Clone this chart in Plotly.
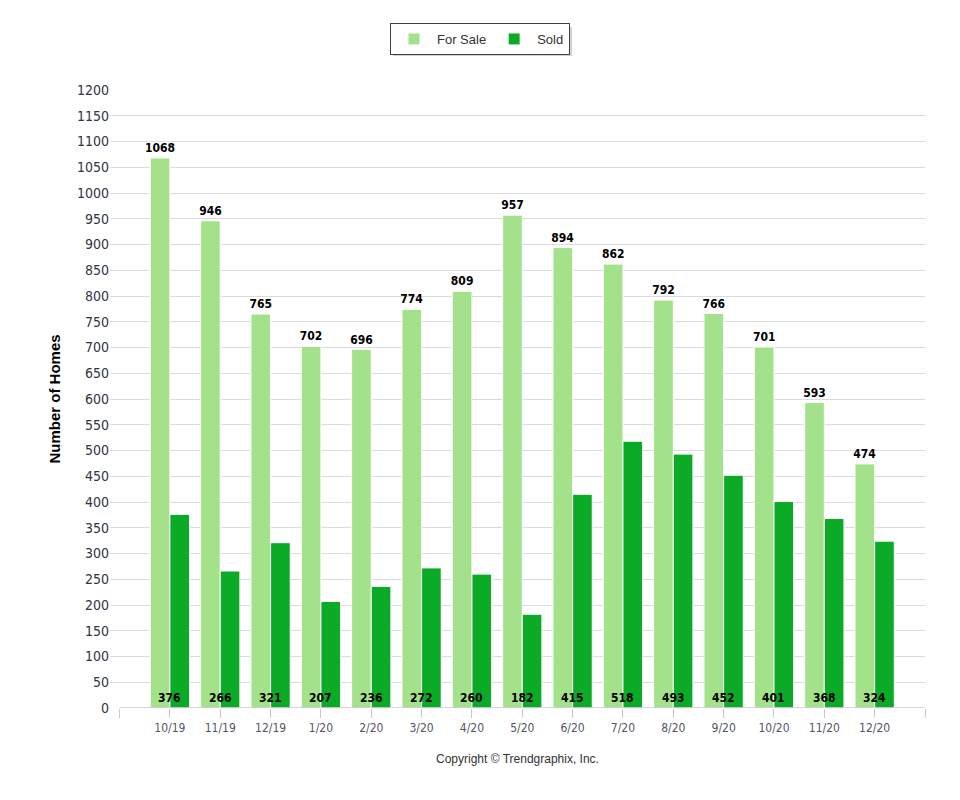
import plotly.graph_objects as go

months = ["10/19", "11/19", "12/19", "1/20", "2/20", "3/20", "4/20", "5/20",
          "6/20", "7/20", "8/20", "9/20", "10/20", "11/20", "12/20"]
for_sale = [1068, 946, 765, 702, 696, 774, 809, 957, 894, 862, 792, 766, 701, 593, 474]
sold = [376, 266, 321, 207, 236, 272, 260, 182, 415, 518, 493, 452, 401, 368, 324]
y_ticks = list(range(0, 1201, 50))

idx = list(range(len(months)))
COND = "Liberation Sans Narrow, DejaVu Sans Condensed, Arial Narrow, sans-serif"
TICKF = "DejaVu Sans Condensed, Liberation Sans Narrow, Tahoma, sans-serif"
ARIAL = "Liberation Sans, Arial, sans-serif"

# page body has an 8px margin; offsets below compensate for it
OFF = 8
W, H = 960, 800
L, R, T, B = 110 - OFF, W - 925 + OFF, 90 - OFF, H - 708 + OFF

fig = go.Figure()
fig.add_trace(go.Bar(
    name="For Sale", x=idx, y=for_sale,
    marker=dict(color="#a3e28a", line=dict(color="#ffffff", width=1)),
    text=[str(v) for v in for_sale], textposition="outside", constraintext="none",
    textfont=dict(family=COND, size=12, color="#000000", weight="bold"),
    cliponaxis=False, hoverinfo="skip",
))
fig.add_trace(go.Bar(
    name="Sold", x=idx, y=sold,
    marker=dict(color="#0bab28", line=dict(color="#ffffff", width=1)),
    hoverinfo="skip",
))

for i, v in zip(idx, sold):
    fig.add_annotation(x=i, y=0, text=f"<b>{v}</b>", showarrow=False,
                       yanchor="bottom", yshift=1,
                       font=dict(family=COND, size=12, color="#000000"))

# x axis baseline from first to last boundary tick
fig.add_shape(type="line", xref="x", yref="y", x0=-1, x1=len(months), y0=0, y1=0,
              line=dict(color="#c8c8c8", width=1.5), layer="above")

# legend drop shadow
pw = W - L - R
ph = H - T - B
def px_x(p):
    return (p - OFF - L) / pw
def px_y(p):
    return 1 - (p - OFF - T) / ph
fig.add_shape(type="rect", xref="paper", yref="paper",
              x0=px_x(393), x1=px_x(572), y0=px_y(27), y1=px_y(56),
              line=dict(width=0), fillcolor="rgba(0,0,0,0.18)", layer="below")

fig.add_annotation(xref="paper", yref="paper", x=0.5, y=px_y(759),
                   text="Copyright © Trendgraphix, Inc.", showarrow=False,
                   yanchor="middle",
                   font=dict(family=ARIAL, size=12, color="#333333"))

fig.update_layout(
    width=W, height=H,
    margin=dict(l=L, r=R, t=T, b=B),
    paper_bgcolor="#ffffff", plot_bgcolor="#ffffff",
    barmode="group", bargap=0.22, bargroupgap=0.0,
    showlegend=True,
    legend=dict(orientation="h", xref="container", yref="container",
                x=(480 - OFF) / W, xanchor="center", y=1 - (39 - OFF) / H, yanchor="middle",
                bordercolor="#3a4356", borderwidth=1, bgcolor="#ffffff",
                font=dict(family=ARIAL, size=13, color="#333333"),
                itemwidth=36, traceorder="normal"),
    xaxis=dict(
        range=[-1.19, 15.0],
        tickvals=[-1] + idx + [len(months)],
        ticktext=[""] + months + [""],
        ticks="outside", ticklen=9, tickcolor="#c8c8c8",
        showgrid=False, zeroline=False, showline=False,
        tickfont=dict(family=TICKF, size=12, color="#555566"),
    ),
    yaxis=dict(
        range=[0, 1200], tickvals=y_ticks,
        showgrid=True, gridcolor="#dcdcdc", gridwidth=1,
        zeroline=False, showline=False, ticks="",
        tickfont=dict(family=TICKF, size=14, color="#333344"),
        title=dict(text="<b>Number of Homes</b>", standoff=12,
                   font=dict(family=ARIAL, size=15, color="#000000")),
    ),
)

fig.write_html("out.html")
